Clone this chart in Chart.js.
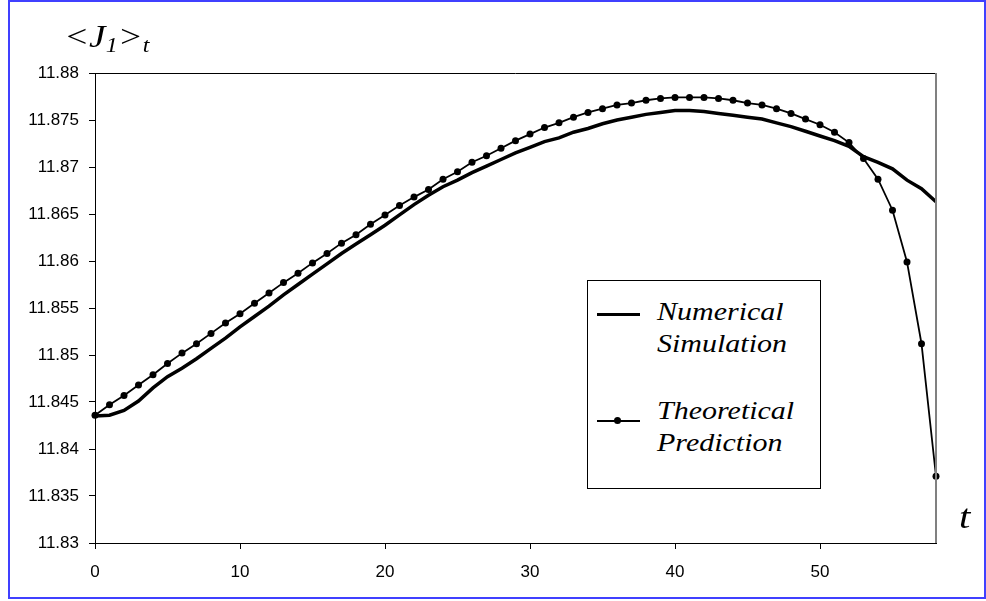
<!DOCTYPE html>
<html>
<head>
<meta charset="utf-8">
<script src="https://cdn.jsdelivr.net/npm/chart.js@4.4.1/dist/chart.umd.min.js"></script>
<style>
  html, body { margin: 0; padding: 0; background: #fff; }
  #wrap { position: relative; width: 986px; height: 601px; overflow: hidden; }
  #chart { position: absolute; left: 0; top: 0; }
  #frame { position: absolute; left: 8px; top: 0; width: 974px; height: 595px; border: 2px solid #4040ff; pointer-events: none; }
  .serif { position: absolute; font-family: "Liberation Serif", "Times New Roman", serif; font-style: italic; color: #000; white-space: nowrap; line-height: 1; transform-origin: 0 0; transform: scaleX(1.2); }
  .sub { font-size: 20px; position: relative; top: 5px; }
  #legend { position: absolute; left: 587px; top: 280px; width: 234px; height: 209px; box-sizing: border-box; border: 1px solid #000; background: #fff; }
  .swatch { position: absolute; background: #000; }
</style>
</head>
<body>
<div id="wrap">
  <canvas id="chart" width="986" height="601"></canvas>
  <div class="serif" id="ytitle" style="left:64px; top:21px; font-size:31px;">&lt;J<span class="sub">1</span>&gt;<span class="sub">t</span></div>
  <div class="serif" id="xtitle" style="left:959px; top:500px; font-size:34px;">t</div>
  <div id="legend"></div>
  <div class="swatch" style="left:597px; top:313px; width:43px; height:3px;"></div>
  <div class="swatch" style="left:597px; top:420px; width:43px; height:2px;"></div>
  <div class="swatch" style="left:614px; top:417px; width:7px; height:7px; border-radius:50%;"></div>
  <div class="serif" style="left:657px; top:299px; font-size:25px;">Numerical</div>
  <div class="serif" style="left:657px; top:331px; font-size:25px;">Simulation</div>
  <div class="serif" style="left:657px; top:398px; font-size:25px;">Theoretical</div>
  <div class="serif" style="left:657px; top:430px; font-size:25px;">Prediction</div>
  <div id="frame"></div>
</div>
<script>
// time steps 0..58
const tValues = [0,1,2,3,4,5,6,7,8,9,10,11,12,13,14,15,16,17,18,19,20,
  21,22,23,24,25,26,27,28,29,30,31,32,33,34,35,36,37,38,39,40,
  41,42,43,44,45,46,47,48,49,50,51,52,53,54,55,56,57,58];

const numerical = [11.8435,11.8436,11.8441,11.8451,11.8465,11.8477,11.8486,11.8496,11.8507,11.8518,11.8530,
  11.8541,11.8552,11.8564,11.8575,11.8586,11.8597,11.8608,11.8618,11.8628,11.8638,
  11.8649,11.8660,11.8670,11.8679,11.8686,11.8694,11.8701,11.8708,11.8715,11.8721,
  11.8727,11.8731,11.8737,11.8741,11.8746,11.8750,11.8753,11.8756,11.8758,11.8760,
  11.8760,11.8759,11.8757,11.8755,11.8753,11.8751,11.8747,11.8743,11.8738,11.8733,
  11.8728,11.8722,11.8711,11.8705,11.8698,11.8686,11.8677,11.8663];

const theoretical = [11.8436,11.8447,11.8457,11.8468,11.8479,11.8491,11.8502,11.8512,11.8523,11.8534,11.8544,
  11.8555,11.8566,11.8577,11.8587,11.8598,11.8608,11.8619,11.8628,11.8639,11.8649,
  11.8659,11.8668,11.8676,11.8687,11.8695,11.8705,11.8712,11.8720,11.8728,11.8735,
  11.8742,11.8747,11.8753,11.8758,11.8762,11.8766,11.8768,11.8771,11.8773,11.8774,
  11.8774,11.8774,11.8773,11.8771,11.8768,11.8766,11.8762,11.8757,11.8751,11.8745,
  11.8737,11.8726,11.8709,11.8687,11.8654,11.8599,11.8512,11.8371];

const xTicks = [0,10,20,30,40,50];
const yTicks = [11.83,11.835,11.84,11.845,11.85,11.855,11.86,11.865,11.87,11.875,11.88];

const tickFont = { family: '"Liberation Sans", Arial, sans-serif', size: 17 };

// top border and grey right border of the plot area
const plotFrame = {
  id: 'plotFrame',
  afterDraw(chart) {
    const { ctx, chartArea: a } = chart;
    ctx.save();
    ctx.strokeStyle = '#000';
    ctx.lineWidth = 1;
    ctx.beginPath();
    ctx.moveTo(a.left, a.top + 0.5);
    ctx.lineTo(a.right, a.top + 0.5);
    ctx.stroke();
    ctx.strokeStyle = '#808080';
    ctx.lineWidth = 2;
    ctx.beginPath();
    ctx.moveTo(a.right, a.top);
    ctx.lineTo(a.right, a.bottom);
    ctx.stroke();
    ctx.restore();
  }
};

new Chart(document.getElementById('chart'), {
  type: 'line',
  data: {
    datasets: [
      {
        label: 'Numerical Simulation',
        data: tValues.map((t, i) => ({ x: t, y: numerical[i] })),
        borderColor: '#000',
        borderWidth: 3.5,
        pointRadius: 0,
        tension: 0,
        clip: false
      },
      {
        label: 'Theoretical Prediction',
        data: tValues.map((t, i) => ({ x: t, y: theoretical[i] })),
        borderColor: '#000',
        borderWidth: 1.8,
        pointRadius: 3.5,
        pointBackgroundColor: '#000',
        pointBorderWidth: 0,
        tension: 0,
        clip: false
      }
    ]
  },
  options: {
    responsive: false,
    animation: false,
    layout: { padding: { left: 0, right: 50, top: 73, bottom: 0 } },
    plugins: { legend: { display: false }, tooltip: { enabled: false } },
    scales: {
      x: {
        type: 'linear',
        min: 0,
        max: 58,
        afterBuildTicks: s => { s.ticks = xTicks.map(v => ({ value: v })); },
        afterFit: s => { s.height = 58; },
        grid: { display: true, drawOnChartArea: false, drawTicks: true, tickLength: 6, color: '#000', lineWidth: 1 },
        border: { display: true, color: '#000', width: 1 },
        ticks: { color: '#000', font: tickFont, padding: 13, maxRotation: 0, autoSkip: false }
      },
      y: {
        min: 11.83,
        max: 11.88,
        afterBuildTicks: s => { s.ticks = yTicks.map(v => ({ value: v })); },
        afterFit: s => { s.width = 95; },
        grid: { display: true, drawOnChartArea: false, drawTicks: true, tickLength: 6, color: '#000', lineWidth: 1 },
        border: { display: true, color: '#000', width: 1 },
        ticks: {
          color: '#000', font: tickFont, padding: 10, autoSkip: false,
          callback: v => String(parseFloat(v.toFixed(3)))
        }
      }
    }
  },
  plugins: [plotFrame]
});
</script>
</body>
</html>
